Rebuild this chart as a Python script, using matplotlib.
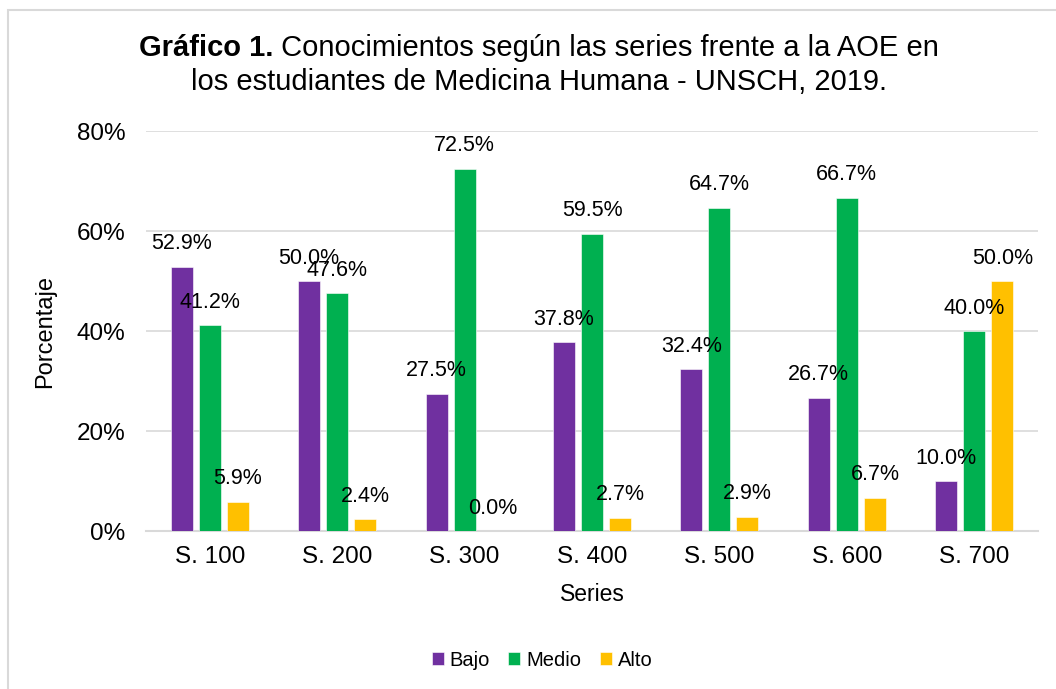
import matplotlib.pyplot as plt
import numpy as np
from matplotlib.patches import Rectangle

plt.rcParams['font.family'] = ['Liberation Sans', 'DejaVu Sans']

# data
series = ['S. 100', 'S. 200', 'S. 300', 'S. 400', 'S. 500', 'S. 600', 'S. 700']
bajo = [52.9, 50.0, 27.5, 37.8, 32.4, 26.7, 10.0]
medio = [41.2, 47.6, 72.5, 59.5, 64.7, 66.7, 40.0]
alto = [5.9, 2.4, 0.0, 2.7, 2.9, 6.7, 50.0]
yticks = [0, 20, 40, 60, 80]

colors = ['#7030A0', '#00B050', '#FFC000']
names = ['Bajo', 'Medio', 'Alto']

fig = plt.figure(figsize=(10.56, 6.89), dpi=100)
ax = fig.add_axes([146/1056, 1-531/689, (1038-146)/1056, 400/689])

# light grey frame round the whole chart
fig.patches.append(Rectangle((8/1056, -0.05), 1.1, 1-10/689+0.05, transform=fig.transFigure,
                             fill=False, edgecolor='#D9D9D9', linewidth=1.5))

x = np.arange(len(series))
w = 0.173
pitch = 0.22
for i, (vals, c, n) in enumerate(zip([bajo, medio, alto], colors, names)):
    pos = x + (i-1)*pitch
    ax.bar(pos, vals, width=w, color=c, label=n, edgecolor='white', linewidth=0.4, zorder=3)
    for px, v in zip(pos, vals):
        ax.annotate(f'{v:.1f}%', (px, v), xytext=(0, 16.5), textcoords='offset points',
                    ha='center', va='center', fontsize=15.5, color='#000000', zorder=4)

ax.set_xlim(-0.5, len(series)-0.5)
ax.set_ylim(0, 80)
ax.set_yticks(yticks)
ax.set_yticklabels([f'{t}%' for t in yticks])
ax.set_xticks(x)
ax.set_xticklabels(series)
ax.tick_params(axis='both', length=0, labelsize=17.5, colors='#000000')
ax.tick_params(axis='y', pad=15)
ax.tick_params(axis='x', pad=11)
ax.grid(axis='y', color='#D9D9D9', linewidth=1.2, zorder=0)
for s in ['top', 'right', 'left']:
    ax.spines[s].set_visible(False)
ax.spines['bottom'].set_color('#D9D9D9')
ax.spines['bottom'].set_linewidth(1.5)

ax.set_xlabel('Series', fontsize=16.5)
ax.xaxis.set_label_coords(0.5, -0.13)
ax.set_ylabel('Porcentaje', fontsize=17)
ax.yaxis.set_label_coords((56-146)/(1038-146), 0.5)

# title: bold lead-in then regular text, centred as one line
t1 = fig.text(0, 1-48/689, 'Gráfico 1.', fontsize=21, fontweight='bold', ha='left', va='center')
t2 = fig.text(0, 1-48/689, ' Conocimientos según las series frente a la AOE en', fontsize=21,
              ha='left', va='center')
fig.text(539/1056, 1-82/689, 'los estudiantes de Medicina Humana - UNSCH, 2019.', fontsize=21,
         ha='center', va='center')
fig.canvas.draw()
r = fig.canvas.get_renderer()
w1 = t1.get_window_extent(r).width
w2 = t2.get_window_extent(r).width
x0 = 539 - (w1 + w2)/2
t1.set_x(x0/1056)
t2.set_x((x0 + w1)/1056)

fig.legend(*ax.get_legend_handles_labels(), loc='center', bbox_to_anchor=(542/1056, 1-660/689),
           ncol=3, frameon=False, fontsize=14.5, handlelength=0.6, handleheight=0.6,
           handletextpad=0.3, columnspacing=0.9)

fig.savefig('out.png', dpi=100)
